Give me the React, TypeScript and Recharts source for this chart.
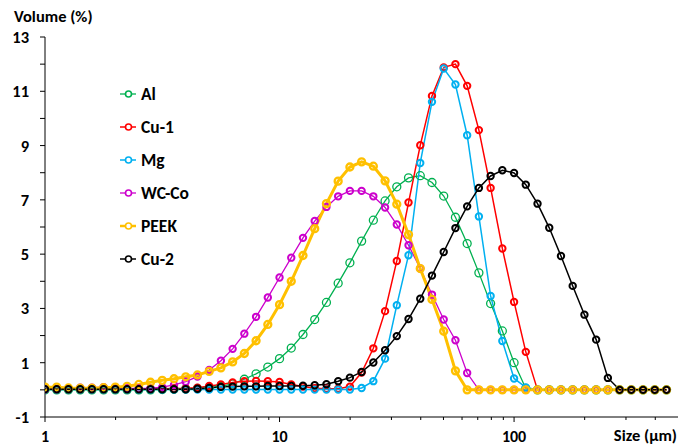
import { LineChart, Line, XAxis, YAxis, Legend } from "recharts"

const FONT = "Carlito, Calibri, Lato, sans-serif"

// particle size bins (µm), log spaced
const sizes = [
  1.0, 1.122, 1.259, 1.413, 1.585, 1.778, 1.995, 2.239, 2.512, 2.818,
  3.162, 3.548, 3.981, 4.467, 5.012, 5.623, 6.31, 7.079, 7.943, 8.913,
  10.0, 11.22, 12.589, 14.125, 15.849, 17.783, 19.953, 22.387, 25.119, 28.184,
  31.623, 35.481, 39.811, 44.668, 50.119, 56.234, 63.096, 70.795, 79.433, 89.125,
  100.0, 112.202, 125.893, 141.254, 158.489, 177.828, 199.526, 223.872, 251.189, 281.838,
  316.228, 354.813, 398.107, 446.684,
]

const al = [
  0, 0, 0, 0, 0, 0, 0, 0, 0, 0,
  0.01, 0.02, 0.03, 0.05, 0.08, 0.13, 0.22, 0.39, 0.59, 0.84,
  1.15, 1.54, 2.04, 2.59, 3.22, 3.93, 4.68, 5.48, 6.25, 6.96,
  7.48, 7.81, 7.89, 7.64, 7.14, 6.36, 5.39, 4.31, 3.18, 2.17,
  1.0, 0.05, 0, 0, 0, 0, 0, 0, 0, 0,
  0, 0, 0, 0,
]

const cu1 = [
  0.02, 0.02, 0.02, 0.02, 0.02, 0.02, 0.02, 0.02, 0.03, 0.03,
  0.04, 0.05, 0.06, 0.08, 0.14, 0.2, 0.27, 0.32, 0.33, 0.32,
  0.29, 0.2, 0.12, 0.06, 0.04, 0.04, 0.12, 0.64, 1.53, 2.9,
  4.75, 6.9, 9.01, 10.83, 11.88, 12.0, 11.2, 9.57, 7.44, 5.21,
  3.24, 1.4, 0, 0, 0, 0, 0, 0, 0, 0,
  0, 0, 0, 0,
]

const mg = [
  0.01, 0.01, 0.01, 0.01, 0.01, 0.01, 0.01, 0.01, 0.01, 0.01,
  0.01, 0.01, 0.01, 0.01, 0.01, 0.01, 0.01, 0.01, 0.01, 0.01,
  0.01, 0.01, 0.01, 0.01, 0.01, 0.01, 0.01, 0.07, 0.32, 1.15,
  3.12, 4.96, 8.36, 10.61, 11.84, 11.25, 9.38, 6.39, 3.46, 1.8,
  0.42, 0.09, 0, 0, 0, 0, 0, 0, 0, 0,
  0, 0, 0, 0,
]

const wcco = [
  0.02, 0.03, 0.05, 0.08, 0.08, 0.1, 0.08, 0.06, 0.05, 0.06,
  0.1, 0.18, 0.3, 0.49, 0.73, 1.07, 1.51, 2.07, 2.69, 3.4,
  4.14, 4.87, 5.6, 6.22, 6.74, 7.13, 7.33, 7.33, 7.13, 6.72,
  6.09, 5.33, 4.47, 3.51, 2.59, 1.83, 0.62, 0, 0, 0,
  0, 0, 0, 0, 0, 0, 0, 0, 0, 0,
  0, 0, 0, 0,
]

const peek = [
  0.1, 0.1, 0.07, 0.06, 0.06, 0.08, 0.1, 0.13, 0.2, 0.28,
  0.35, 0.41, 0.48, 0.55, 0.68, 0.81, 1.03, 1.34, 1.81, 2.41,
  3.14, 4.0, 4.95, 5.94, 6.86, 7.69, 8.21, 8.4, 8.24, 7.7,
  6.84, 5.72, 4.47, 3.33, 2.16, 0.7, 0, 0, 0, 0,
  0, 0, 0, 0, 0, 0, 0, 0, 0, 0,
  0, 0, 0, 0,
]

const cu2 = [
  0.02, 0.02, 0.02, 0.02, 0.02, 0.02, 0.02, 0.02, 0.02, 0.02,
  0.02, 0.02, 0.02, 0.04, 0.07, 0.11, 0.12, 0.13, 0.13, 0.14,
  0.14, 0.14, 0.15, 0.17, 0.21, 0.32, 0.45, 0.66, 1.01, 1.46,
  1.98, 2.61, 3.36, 4.21, 5.08, 5.96, 6.76, 7.44, 7.88, 8.09,
  7.99, 7.56, 6.86, 5.97, 4.93, 3.83, 2.77, 1.85, 0.44, 0,
  0, 0, 0, 0,
]

const xTicks = [1, 2, 3, 4, 5, 6, 7, 8, 9, 10, 20, 30, 40, 50, 60, 70, 80, 90, 100, 200, 300, 400]
const xLabels = [1, 10, 100]
const yTicks = [-1, 0, 1, 2, 3, 4, 5, 6, 7, 8, 9, 10, 11, 12, 13]
const yLabels = [-1, 1, 3, 5, 7, 9, 11, 13]

const series = [
  { key: "al", name: "Al", color: "#00B050", width: 1.3, r: 4, dotWidth: 1.3 },
  { key: "cu1", name: "Cu-1", color: "#FF0000", width: 1.5, r: 3.2, dotWidth: 2 },
  { key: "mg", name: "Mg", color: "#00B0F0", width: 1.5, r: 3.2, dotWidth: 2 },
  { key: "wcco", name: "WC-Co", color: "#CC00CC", width: 1.3, r: 3.2, dotWidth: 2 },
  { key: "peek", name: "PEEK", color: "#FFC000", width: 3, r: 3.5, dotWidth: 2.3 },
  { key: "cu2", name: "Cu-2", color: "#000000", width: 1.5, r: 3.2, dotWidth: 2 },
]

const data = sizes.map((size, i) => ({
  size,
  al: al[i],
  cu1: cu1[i],
  mg: mg[i],
  wcco: wcco[i],
  peek: peek[i],
  cu2: cu2[i],
}))

function XTick(props: any) {
  const { x, y, payload } = props
  const major = xLabels.includes(payload.value)
  return (
    <g>
      <line x1={x} x2={x} y1={y} y2={y + (major ? 5 : 3)} stroke="#000" />
      {major && (
        <text x={x} y={y + 25} textAnchor="middle" fontFamily={FONT} fontWeight="bold" fontSize={16} fill="#000">
          {payload.value}
        </text>
      )}
    </g>
  )
}

function YTick(props: any) {
  const { x, y, payload } = props
  const major = yLabels.includes(payload.value)
  return (
    <g>
      <line x1={x - 5} x2={x} y1={y} y2={y} stroke="#000" />
      {major && (
        <text x={x - 16} y={y + 6} textAnchor="end" fontFamily={FONT} fontWeight="bold" fontSize={16.5} fill="#000">
          {payload.value}
        </text>
      )}
    </g>
  )
}

function LegendBox() {
  return (
    <div style={{ fontFamily: FONT, fontWeight: "bold", fontSize: 17.5, color: "#000" }}>
      {series.map((s) => (
        <div key={s.key} style={{ display: "flex", alignItems: "center", height: 33 }}>
          <svg width={16} height={10}>
            <line x1={0} x2={16} y1={5} y2={5} stroke={s.color} strokeWidth={Math.min(s.width, 2.5)} />
            <circle cx={8.5} cy={5} r={3} fill="#fff" stroke={s.color} strokeWidth={1.6} />
          </svg>
          <span style={{ marginLeft: 5 }}>{s.name}</span>
        </div>
      ))}
    </div>
  )
}

export default function App() {
  return (
    <div style={{ position: "absolute", left: 0, top: 0 }}>
      <LineChart width={678} height={448} data={data} margin={{ top: 37, right: 0, bottom: 0, left: 0 }}>
        <XAxis
          dataKey="size"
          type="number"
          scale="log"
          domain={[1, 500]}
          allowDataOverflow
          ticks={xTicks}
          interval={0}
          tick={XTick}
          tickLine={false}
          tickSize={0}
          tickMargin={0}
          height={31}
          axisLine={{ stroke: "#000" }}
          label={{
            content: () => (
              <text x={677} y={441} textAnchor="end" fontFamily={FONT} fontWeight="bold" fontSize={16.5} fill="#000">
                Size (µm)
              </text>
            ),
          }}
        />
        <YAxis
          type="number"
          domain={[-1, 13]}
          ticks={yTicks}
          interval={0}
          tick={YTick}
          tickLine={false}
          tickSize={0}
          tickMargin={0}
          width={45}
          axisLine={{ stroke: "#000" }}
          label={{
            content: () => (
              <text x={14} y={22} fontFamily={FONT} fontWeight="bold" fontSize={16.5} fill="#000">
                Volume (%)
              </text>
            ),
          }}
        />
        <Legend
          layout="vertical"
          align="center"
          verticalAlign="middle"
          content={LegendBox}
          wrapperStyle={{ left: 120, top: 77, width: 90 }}
        />
        {series.map((s) => (
          <Line
            key={s.key}
            dataKey={s.key}
            name={s.name}
            type="linear"
            stroke={s.color}
            strokeWidth={s.width}
            dot={{ r: s.r, strokeWidth: s.dotWidth, fill: "none", stroke: s.color }}
            activeDot={false}
            isAnimationActive={false}
          />
        ))}
      </LineChart>
    </div>
  )
}
